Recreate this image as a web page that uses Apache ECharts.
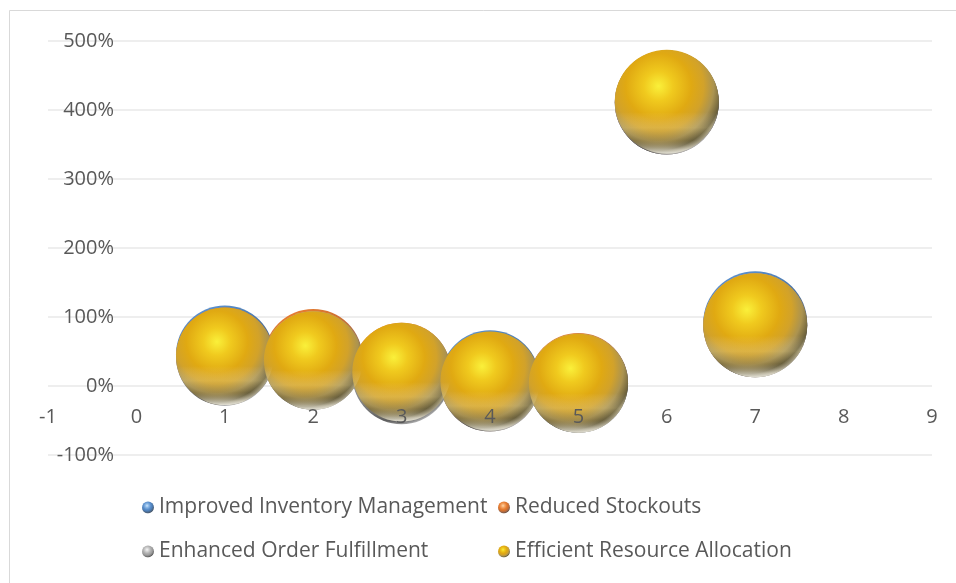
<!DOCTYPE html>
<html>
<head>
<meta charset="utf-8">
<script src="https://cdn.jsdelivr.net/npm/echarts@6/dist/echarts.min.js"></script>
<style>html,body{margin:0;padding:0;background:#fff}#c{width:956px;height:583px}</style>
</head>
<body>
<div id="c"></div>
<script>
// X positions (categories 1..7)
const xValues = [1, 2, 3, 4, 5, 6, 7];
// Series values (percent)
const improvedInventory = [46, 38, 18, 9, 4, 411, 91];
const reducedStockouts = [43, 40, 20, 6, 5, 411, 88];
const enhancedFulfillment = [42, 37, 16, 6, 4, 411, 88];
const efficientAllocation = [43, 37, 20, 7, 4, 412, 88];
// Bubble size values
const bubbleSizes = [0.88, 0.9, 0.9, 0.91, 0.91, 1.0, 1.0];
const seriesNames = ['Improved Inventory Management', 'Reduced Stockouts', 'Enhanced Order Fulfillment', 'Efficient Resource Allocation'];
const yTicks = { min: -100, max: 500, step: 100 };
const xTicks = { min: -1, max: 9, step: 1 };

const FONT = '"Open Sans", sans-serif';
const TXT = '#595959';

function sphere(c0, c1, c2, c3, c4, c5, c6) {
  return {
    type: 'radial', x: 0.42, y: 0.35, r: 0.7,
    colorStops: [
      { offset: 0, color: c0 },
      { offset: 0.2, color: c1 },
      { offset: 0.45, color: c2 },
      { offset: 0.62, color: c3 },
      { offset: 0.76, color: c4 },
      { offset: 0.88, color: c5 },
      { offset: 1, color: c6 }
    ]
  };
}
const palettes = [
  sphere('#cfe6ff', '#8ebbe8', '#5b8fcc', '#4d7fb8', '#4a6a90', '#4f5f70', '#d8dde4'),
  sphere('#ffd8a8', '#f5a868', '#e67c30', '#cf7030', '#a86a48', '#6f5648', '#e4d9d0'),
  sphere('#f6f6f6', '#d6d6d6', '#b0b0b0', '#a0a0a0', '#858585', '#5e5e5e', '#e2e2e2'),
  sphere('#faf03a', '#f0ca1e', '#e0a912', '#d2a22a', '#ab9350', '#6a603c', '#e6e2d4')
];
const reflection = {
  type: 'linear', x: 0, y: 0, x2: 0, y2: 1,
  colorStops: [
    { offset: 0, color: 'rgba(255,255,255,0)' },
    { offset: 0.6, color: 'rgba(255,255,255,0)' },
    { offset: 0.75, color: 'rgba(240,225,170,0.3)' },
    { offset: 0.87, color: 'rgba(110,100,70,0.2)' },
    { offset: 0.96, color: 'rgba(235,232,220,0.7)' },
    { offset: 1, color: 'rgba(250,250,245,0.9)' }
  ]
};
const allValues = [improvedInventory, reducedStockouts, enhancedFulfillment, efficientAllocation];

const series = seriesNames.map((name, si) => ({
  name: name,
  type: 'scatter',
  xAxisIndex: 0, yAxisIndex: 0,
  z: 2 + si,
  data: xValues.map((x, i) => [x, allValues[si][i], bubbleSizes[i]]),
  symbolSize: v => Math.sqrt(v[2]) * 104,
  itemStyle: { color: palettes[si], opacity: 1 },
  emphasis: { disabled: true },
  silent: true
}));
// glossy reflection overlay on the top (visible) series
series.push({
  name: 'reflection',
  type: 'scatter',
  xAxisIndex: 0, yAxisIndex: 0,
  z: 10,
  data: xValues.map((x, i) => [x, efficientAllocation[i], bubbleSizes[i]]),
  symbolSize: v => Math.sqrt(v[2]) * 104,
  itemStyle: { color: reflection },
  emphasis: { disabled: true },
  silent: true
});

const chart = echarts.init(document.getElementById('c'));
chart.setOption({
  backgroundColor: '#fff',
  animation: false,
  textStyle: { fontFamily: FONT },
  graphic: [{
    type: 'rect', silent: true,
    shape: { x: 9.5, y: 10.5, width: 1000, height: 700 },
    style: { fill: 'none', stroke: '#d9d9d9', lineWidth: 1 }
  }],
  grid: [
    // plot area
    { left: 48, right: 24, top: 41, bottom: 128, containLabel: false, outerBoundsMode: 'none' },
    // x labels along the zero line
    { left: 48, right: 24, top: 41, bottom: 197, containLabel: false, outerBoundsMode: 'none' },
    // y labels along x = 0
    { left: 137, right: 24, top: 41, bottom: 128, containLabel: false, outerBoundsMode: 'none' }
  ],
  xAxis: [
    { gridIndex: 0, type: 'value', min: xTicks.min, max: xTicks.max, interval: xTicks.step,
      axisLine: { show: false }, axisTick: { show: false }, splitLine: { show: false }, axisLabel: { show: false } },
    { gridIndex: 1, type: 'value', position: 'bottom', min: xTicks.min, max: xTicks.max, interval: xTicks.step,
      z: 30,
      axisLine: { show: false, onZero: false }, axisTick: { show: false }, splitLine: { show: false },
      axisLabel: { color: TXT, fontSize: 20, fontFamily: FONT, margin: 21, showMinLabel: true, showMaxLabel: true } },
    { gridIndex: 2, type: 'value', min: xTicks.min, max: xTicks.max, show: false }
  ],
  yAxis: [
    { gridIndex: 0, type: 'value', min: yTicks.min, max: yTicks.max, interval: yTicks.step,
      axisLine: { show: false }, axisTick: { show: false },
      splitLine: { show: true, lineStyle: { color: '#e8e8e8', width: 1.5 } },
      axisLabel: { show: false } },
    { gridIndex: 1, type: 'value', min: yTicks.min, max: yTicks.max, show: false },
    { gridIndex: 2, type: 'value', position: 'left', min: yTicks.min, max: yTicks.max, interval: yTicks.step,
      axisLine: { show: false, onZero: false }, axisTick: { show: false }, splitLine: { show: false },
      axisLabel: { color: TXT, fontSize: 20, fontFamily: FONT, margin: 23, formatter: v => v + '%' } }
  ],
  legend: [{
    left: 137, top: 492, orient: 'vertical', itemGap: 23,
    icon: 'circle', itemWidth: 12, itemHeight: 12,
    textStyle: { color: TXT, fontSize: 21, fontFamily: FONT },
    data: [seriesNames[0], seriesNames[2]],
    selectedMode: false
  }, {
    left: 493, top: 492, orient: 'vertical', itemGap: 23,
    icon: 'circle', itemWidth: 12, itemHeight: 12,
    textStyle: { color: TXT, fontSize: 21, fontFamily: FONT },
    data: [seriesNames[1], seriesNames[3]],
    selectedMode: false
  }],
  series: series
});
</script>
</body>
</html>
